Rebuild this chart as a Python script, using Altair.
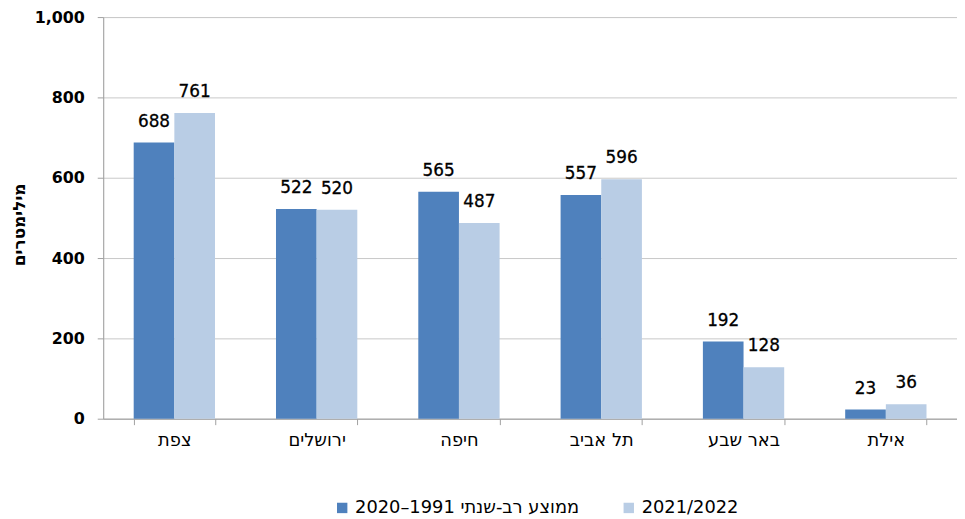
import altair as alt
import pandas as pd

cities = ["צפת", "ירושלים", "חיפה", "תל אביב", "באר שבע", "אילת"]
series_names = ["2020–1991 ממוצע רב-שנתי", "2021/2022"]
avg_values = [688, 522, 565, 557, 192, 23]
season_values = [761, 520, 487, 596, 128, 36]
colors = ["#4F81BD", "#B9CDE5"]

rows = []
for c, a, s in zip(cities, avg_values, season_values):
    rows.append({"city": c, "series": series_names[0], "value": a})
    rows.append({"city": c, "series": series_names[1], "value": s})
df = pd.DataFrame(rows)

FONT = "DejaVu Sans, Open Sans, sans-serif"

x = alt.X("city:N", sort=cities, title=None,
          scale=alt.Scale(paddingInner=0.4286, paddingOuter=0.2143),
          axis=alt.Axis(labelAngle=0, tickBand="extent", labelFontSize=18,
                        labelColor="#000", labelFont=FONT, labelPadding=7,
                        domainColor="#A0A0A0", tickColor="#A0A0A0", tickSize=6,
                        grid=False))
y = alt.Y("value:Q", title="מילימטרים",
          scale=alt.Scale(domain=[0, 1000]),
          axis=alt.Axis(values=[0, 200, 400, 600, 800, 1000], format=",.0f",
                        labelFontSize=16, labelFont=FONT, labelColor="#000",
                        labelFontWeight="bold", labelPadding=13,
                        domainColor="#A0A0A0", tickColor="#A0A0A0", tickSize=6,
                        gridColor="#C8C8C8", titleFontSize=17, titleFont=FONT,
                        titleFontWeight="bold", titleColor="#000",
                        titleAngle=-90, titleX=-84, titleY=209,
                        titleAlign="center", titleBaseline="middle"))
xo = alt.XOffset("series:N", sort=series_names,
                 scale=alt.Scale(paddingInner=0, paddingOuter=0))

bars = alt.Chart(df).mark_bar().encode(
    x=x, y=y, xOffset=xo,
    color=alt.Color("series:N", sort=series_names,
                    scale=alt.Scale(domain=series_names, range=colors),
                    legend=alt.Legend(title=None, orient="none", direction="horizontal",
                                      legendX=232, legendY=486,
                                      symbolType="square", symbolSize=110,
                                      symbolStrokeWidth=0, symbolOffset=0,
                                      labelFontSize=18, labelFont=FONT,
                                      labelColor="#000", columnPadding=40,
                                      labelOffset=4, labelLimit=400)),
)

labels = alt.Chart(df).mark_text(fontSize=17, font=FONT, color="#000",
                                 stroke="#000", strokeWidth=0.3,
                                 baseline="alphabetic", dy=-16).encode(
    x=alt.X("city:N", sort=cities), y="value:Q", xOffset=xo,
    text=alt.Text("value:Q"),
)

chart = (bars + labels).properties(
    width=861, height=405,
    padding={"left": 96, "top": 7, "right": 0, "bottom": 99},
    autosize=alt.AutoSizeParams(type="none"),
).configure_view(stroke=None).configure(background="white")

chart.save("out.html", embed_options={"renderer": "svg", "actions": False})
